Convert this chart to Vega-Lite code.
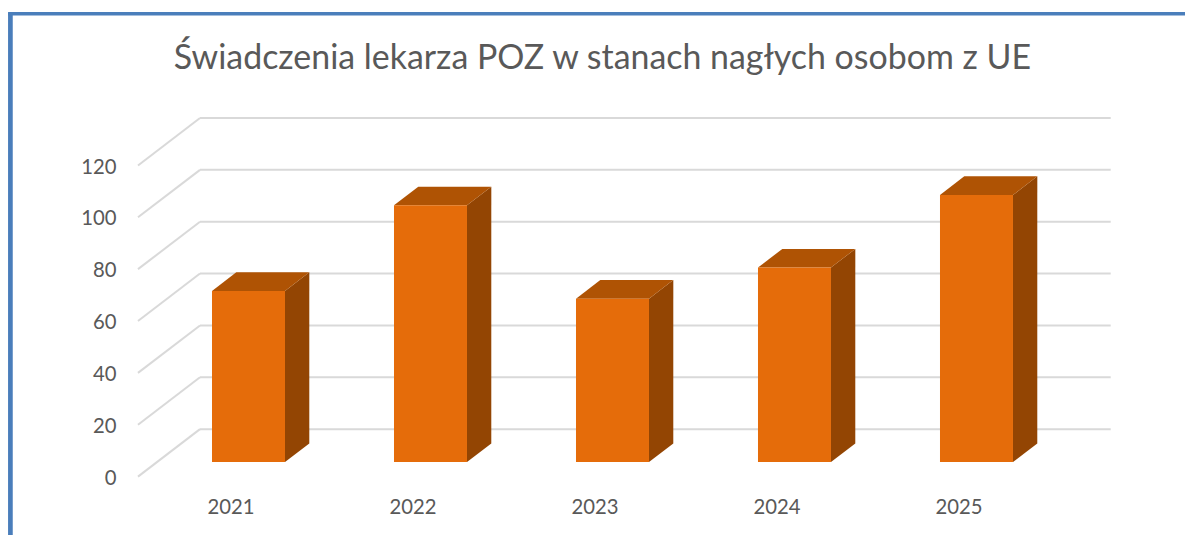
{
"$schema":"https://vega.github.io/schema/vega-lite/v6.json",
"width":972.7,"height":363,
"autosize":{"type":"none"},
"padding":{"left":138,"top":118,"right":74.3,"bottom":54},
"background":"white",
"view":{"stroke":null},
"title":{"text":"Świadczenia lekarza POZ w stanach nagłych osobom z UE","font":"Lato","fontSize":33.9,"fontWeight":"normal","color":"#595959","anchor":"middle","dx":-22,"offset":0,"dy":66},
"resolve":{"axis":{"x":"independent","y":"independent"}},
"datasets":{
"bars":[{"year":2021,"value":66},{"year":2022,"value":99},{"year":2023,"value":63},{"year":2024,"value":75},{"year":2025,"value":103}],
"ticks":[{"tick":0},{"tick":20},{"tick":40},{"tick":60},{"tick":80},{"tick":100},{"tick":120}]
},
"layer":[
{"data":{"name":"ticks"},"mark":{"type":"rule","color":"#D9D9D9","strokeWidth":2},
"encoding":{
"x":{"datum":2020.8325,"type":"quantitative","scale":{"domain":[2020.4918,2025.8364],"nice":false,"zero":false},
"axis":{"values":[2021,2022,2023,2024,2025],"format":"d","title":null,"grid":false,"domain":false,"ticks":false,"labelFont":"Lato","labelFontSize":20.3,"labelColor":"#595959","labelPadding":16}},
"x2":{"datum":2025.8364},
"y":{"field":"tick","type":"quantitative","scale":{"domain":[-20,120],"nice":false,"zero":false},
"axis":{"values":[0,20,40,60,80,100,120],"title":null,"grid":false,"domain":false,"ticks":false,"labelFont":"Lato","labelFontSize":20.3,"labelColor":"#595959","labelPadding":22,"labelOffset":49}}
}},
{"data":{"name":"ticks"},"transform":[{"calculate":"datum.tick-18.3","as":"front"}],"mark":{"type":"rule","color":"#D9D9D9","strokeWidth":2},
"encoding":{
"x":{"datum":2020.4918,"type":"quantitative","axis":null},
"x2":{"datum":2020.8325},
"y":{"field":"front","type":"quantitative","axis":null},
"y2":{"field":"tick"}
}},
{"data":{"name":"bars"},"transform":[{"calculate":"[0,1]","as":"t"},{"flatten":["t"]},{"calculate":"datum.year+0.2995+datum.t*0.1335","as":"sx"},{"calculate":"-12.69+datum.t*7.2","as":"sy0"},{"calculate":"-12.69+datum.value+datum.t*7.2","as":"sy1"}],
"mark":{"type":"area","color":"#934503","line":false,"opacity":1},
"encoding":{"detail":{"field":"year"},"x":{"field":"sx","type":"quantitative","axis":null},"y":{"field":"sy0","type":"quantitative","axis":null,"stack":null},"y2":{"field":"sy1"}}},
{"data":{"name":"bars"},"transform":[{"calculate":"[0,1]","as":"t"},{"flatten":["t"]},{"calculate":"datum.year-0.1016+datum.t*0.1335","as":"tx0"},{"calculate":"datum.year+0.2995+datum.t*0.1335","as":"tx1"},{"calculate":"-12.69+datum.value+datum.t*7.2","as":"ty"}],
"mark":{"type":"area","orient":"horizontal","color":"#AF5304","opacity":1},
"encoding":{"detail":{"field":"year"},"y":{"field":"ty","type":"quantitative","axis":null},"x":{"field":"tx0","type":"quantitative","axis":null,"stack":null},"x2":{"field":"tx1"}}},
{"data":{"name":"bars"},"transform":[{"calculate":"datum.year-0.1016","as":"fx0"},{"calculate":"datum.year+0.2995","as":"fx1"},{"calculate":"-12.69","as":"fy0"},{"calculate":"-12.69+datum.value","as":"fy1"}],
"mark":{"type":"rect","color":"#E56C0A"},
"encoding":{"x":{"field":"fx0","type":"quantitative","axis":null},"x2":{"field":"fx1"},"y":{"field":"fy0","type":"quantitative","axis":null},"y2":{"field":"fy1"}}},
{"data":{"values":[{}]},"mark":{"type":"rule","color":"#4A7EBB","strokeWidth":4.7},
"encoding":{"x":{"datum":2019.7907,"type":"quantitative","axis":null},"y":{"datum":160.7,"type":"quantitative","axis":null},"y2":{"datum":-45}}},
{"data":{"values":[{}]},"mark":{"type":"rule","color":"#4A7EBB","strokeWidth":3.3},
"encoding":{"y":{"datum":160.2,"type":"quantitative","axis":null},"x":{"datum":2019.778,"type":"quantitative","axis":null},"x2":{"datum":2026.3}}}
]
}
